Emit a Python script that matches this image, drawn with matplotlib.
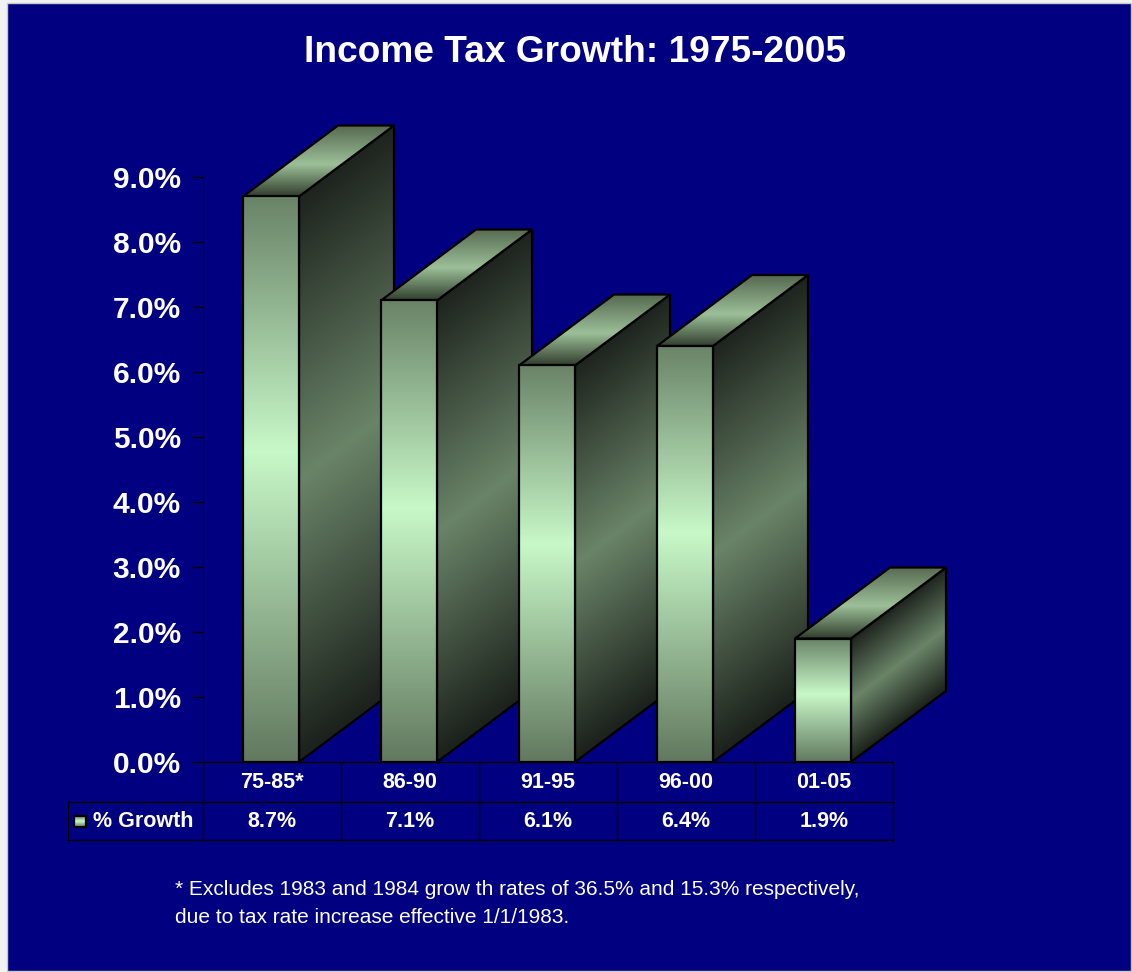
import numpy as np
import matplotlib.pyplot as plt
from matplotlib.colors import LinearSegmentedColormap
from matplotlib.patches import Polygon, Rectangle

# data
categories = ['75-85*', '86-90', '91-95', '96-00', '01-05']
growth = [8.7, 7.1, 6.1, 6.4, 1.9]
value_labels = ['8.7%', '7.1%', '6.1%', '6.4%', '1.9%']
yticks = [0, 1, 2, 3, 4, 5, 6, 7, 8, 9]
title = 'Income Tax Growth: 1975-2005'
series_name = '% Growth'
footnote = ['* Excludes 1983 and 1984 grow th rates of 36.5% and 15.3% respectively,',
            'due to tax rate increase effective 1/1/1983.']

NAVY = '#000080'
W, H = 1132, 972
plt.rcParams['font.family'] = ['Liberation Sans', 'DejaVu Sans']

fig = plt.figure(figsize=(W / 100, H / 100), dpi=100)
fig.patch.set_facecolor('#f2f2f2')
fig.patches.append(Rectangle((7 / W, 1 - 971 / H), 1124 / W, 968 / H, transform=fig.transFigure,
                             facecolor=NAVY, edgecolor='#c8c8c8', lw=1, zorder=-5))

# axes: x in category units (138 px each), y in percent (65 px each)
colw, unit = 138.0, 65.0
ax_l, ax_r, ax_b, ax_t = 203, 960, 762, 110
ax = fig.add_axes([ax_l / W, 1 - ax_b / H, (ax_r - ax_l) / W, (ax_b - ax_t) / H])
ax.set_zorder(2)
ax.set_facecolor('none')
xmax = (ax_r - ax_l) / colw
ymax = (ax_b - ax_t) / unit

front_cm = LinearSegmentedColormap.from_list('front', [(0, '#62795f'), (0.55, '#c8f8c8'), (1, '#6a8468')])
side_cm = LinearSegmentedColormap.from_list('side', [(0, '#1b211b'), (0.5, '#6a8468'), (1, '#1e241e')])
top_cm = LinearSegmentedColormap.from_list('top', [(0, '#33402f'), (0.45, '#9cbf98'), (1, '#55684f')])

bw = 56 / colw            # bar width
dx, dy = 95 / colw, 71 / unit   # depth offset


def face(poly, cmap, param, z):
    xs = [p[0] for p in poly]
    ys = [p[1] for p in poly]
    x0, x1, y0, y1 = min(xs), max(xs), min(ys), max(ys)
    gx, gy = np.meshgrid(np.linspace(x0, x1, 120), np.linspace(y0, y1, 300))
    t = np.clip(param(gx, gy), 0, 1)
    im = ax.imshow(cmap(t), extent=[x0, x1, y0, y1], origin='lower', aspect='auto',
                   interpolation='bilinear', zorder=z)
    p = Polygon(poly, closed=True, facecolor='none', edgecolor='black', lw=1.6, zorder=z + 0.1)
    ax.add_patch(p)
    im.set_clip_path(p)
    return im, p


for i, v in enumerate(growth):
    xl = i + 40 / colw
    xr = xl + bw
    z = 2 + i
    # side face
    face([(xr, 0), (xr + dx, dy), (xr + dx, v + dy), (xr, v)], side_cm,
         lambda gx, gy, xr=xr, v=v: (gy - (gx - xr) / dx * dy) / v, z)
    # top face
    face([(xl, v), (xr, v), (xr + dx, v + dy), (xl + dx, v + dy)], top_cm,
         lambda gx, gy, v=v: (gy - v) / dy, z + 0.2)
    # front face
    face([(xl, 0), (xr, 0), (xr, v), (xl, v)], front_cm,
         lambda gx, gy, v=v: gy / v, z + 0.4)

ax.set_xlim(0, xmax)
ax.set_ylim(0, ymax)
for s in ['top', 'right', 'bottom']:
    ax.spines[s].set_visible(False)
ax.spines['left'].set_color('black')
ax.spines['left'].set_bounds(0, 9)
ax.set_xticks([])
ax.set_yticks(yticks)
ax.set_yticklabels(['%.1f%%' % t for t in yticks])
ax.tick_params(axis='y', direction='out', length=8, width=1, color='black', pad=8,
               labelsize=21.5, labelcolor='white')
for lab in ax.get_yticklabels():
    lab.set_fontweight('bold')

# data table below the plot
r1, r2 = -40 / unit, -78 / unit
left_x = (68 - ax_l) / colw
n = len(categories)
lk = dict(color='black', lw=1, clip_on=False, zorder=10)
ax.plot([0, n], [0, 0], **lk)
ax.plot([left_x, n], [r1, r1], **lk)
ax.plot([left_x, n], [r2, r2], **lk)
ax.plot([left_x, left_x], [r1, r2], **lk)
for k in range(n + 1):
    ax.plot([k, k], [0, r2], **lk)
for k in range(n):
    ax.text(k + 0.5, r1 / 2, categories[k], ha='center', va='center', color='white',
            fontsize=15.5, fontweight='bold', clip_on=False)
    ax.text(k + 0.5, (r1 + r2) / 2, value_labels[k], ha='center', va='center', color='white',
            fontsize=15.5, fontweight='bold', clip_on=False)

# legend key in the table
kx0, kx1 = (74 - ax_l) / colw, (86 - ax_l) / colw
ky0, ky1 = (762 - 827) / unit, (762 - 816) / unit
kim, kp = face([(kx0, ky0), (kx1, ky0), (kx1, ky1), (kx0, ky1)], front_cm,
               lambda gx, gy: (gy - ky0) / (ky1 - ky0), 12)
kim.set_clip_on(False)
kp.set_clip_on(False)
ax.text((93 - ax_l) / colw, (r1 + r2) / 2, series_name, ha='left', va='center', color='white',
        fontsize=15.5, fontweight='bold', clip_on=False)

fig.text(575 / W, 1 - 52 / H, title, ha='center', va='center', color='white',
         fontsize=26.7, fontweight='bold')
fig.text(175 / W, 1 - 889 / H, footnote[0], ha='left', va='center', color='white', fontsize=15)
fig.text(175 / W, 1 - 917 / H, footnote[1], ha='left', va='center', color='white', fontsize=15)

fig.savefig('out.png', dpi=100, facecolor=fig.get_facecolor())
